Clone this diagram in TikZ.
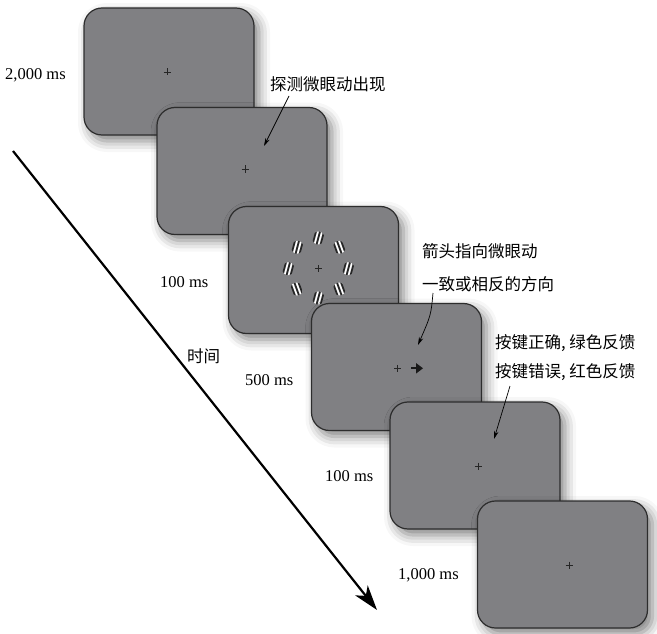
\documentclass[tikz,border=0pt]{standalone}
\usepackage{fontspec}
\setmainfont{Liberation Serif}
\newfontfamily\cjk{Noto Sans CJK SC}
\usetikzlibrary{arrows.meta,shadows.blur}
\definecolor{scr}{RGB}{128,128,131}
\definecolor{edge}{RGB}{45,45,45}
\tikzset{
  screen/.style={draw=edge, line width=1.2pt, fill=scr, rounded corners=18pt,
    minimum width=170pt, minimum height=127pt, inner sep=0pt,
    blur shadow={shadow xshift=5pt, shadow yshift=-6pt, shadow blur radius=11pt, shadow opacity=50}},
  lab/.style={anchor=west, inner sep=0pt, font=\fontsize{16.5}{18}\selectfont},
  cjklab/.style={anchor=west, inner sep=0pt, font=\cjk\fontsize{16.5}{18}\selectfont},
  pointer/.style={line width=0.7pt, -{Stealth[length=8pt,width=4.5pt]}},
  timearrow/.style={line width=2.2pt, -{Stealth[length=25pt,width=16pt,inset=7pt]}},
  fix/.style={line width=0.7pt, draw=black!85},
}
\newcommand\fixat[2]{\draw[fix] ({#1-3.5},#2) -- ({#1+3.5},#2) (#1,{#2-3.5}) -- (#1,{#2+3.5});}
\newcommand\gaborpatch[3]{%
  \begin{scope}[shift={(#1,#2)}, rotate=#3]
    \clip (0,0) ellipse (6 and 6.5);
    \foreach \xx in {-3.9,0,3.9} \draw[black!85, line width=1.7pt] (\xx,-7) -- (\xx,7);
    \foreach \xx in {-1.95,1.95} \draw[white, line width=1.6pt] (\xx,-7) -- (\xx,7);
  \end{scope}}
\begin{document}
\begin{tikzpicture}[x=1pt,y=-1pt]
\useasboundingbox (0,0) rectangle (657,634);
% screens
\node[screen] (s1) at (169,71.5) {};
\fixat{167}{72}
\node[screen] (s2) at (242,171) {};
\fixat{245}{169}
\node[screen] (s3) at (313.5,270) {};
\fixat{318.3}{268.7}
\gaborpatch{318.3}{238}{-15}
\gaborpatch{339.3}{247.3}{20}
\gaborpatch{348.3}{268.7}{-15}
\gaborpatch{339.3}{289}{20}
\gaborpatch{318.3}{298}{-15}
\gaborpatch{296.7}{289}{20}
\gaborpatch{288.3}{268.7}{-15}
\gaborpatch{297.3}{247.3}{-15}
\node[screen] (s4) at (396.5,367) {};
\fixat{397.5}{368.3}
\coordinate (cueA) at (411,368.3);
\coordinate (cueB) at (418,368.3);
\draw[line width=1.7pt, black!90] (cueA) -- (cueB);
\fill[black!90] (416,363) -- (423,368.3) -- (416,373.6) -- cycle;
\node[screen] (s5) at (475,465.5) {};
\fixat{478}{466}
\node[screen] (s6) at (562.5,564.5) {};
\fixat{569}{565}
% time arrow
\coordinate (tstart) at (13,151);
\coordinate (tend) at (377,610);
\draw[timearrow] (tstart) -- (tend);
\node[cjklab] (tlab) at (187,356) {时间};
% durations
\node[lab] (d1) at (5,75) {2,000 ms};
\node[lab] (d2) at (160,282) {100 ms};
\node[lab] (d3) at (245,380) {500 ms};
\node[lab] (d4) at (325,476) {100 ms};
\node[lab] (d5) at (398,575) {1,000 ms};
% annotations
\node[cjklab] (a1) at (270,84) {探测微眼动出现};
\node[cjklab] (a2) at (422,251) {箭头指向微眼动};
\node[cjklab] (a3) at (422,284) {一致或相反的方向};
\node[cjklab] (a4) at (495,343) {按键正确, 绿色反馈};
\node[cjklab] (a5) at (495,372) {按键错误, 红色反馈};
% pointers
\coordinate (p1s) at (289,96);
\coordinate (p1e) at (264,146);
\coordinate (p2s) at (433,293);
\coordinate (p2e) at (418,345);
\coordinate (p3s) at (510,386);
\coordinate (p3e) at (494,439);
\draw[pointer] (p1s) -- (p1e);
\draw[pointer] (p2s) .. controls (431,315) .. (p2e);
\draw[pointer] (p3s) -- (p3e);
\end{tikzpicture}
\end{document}
